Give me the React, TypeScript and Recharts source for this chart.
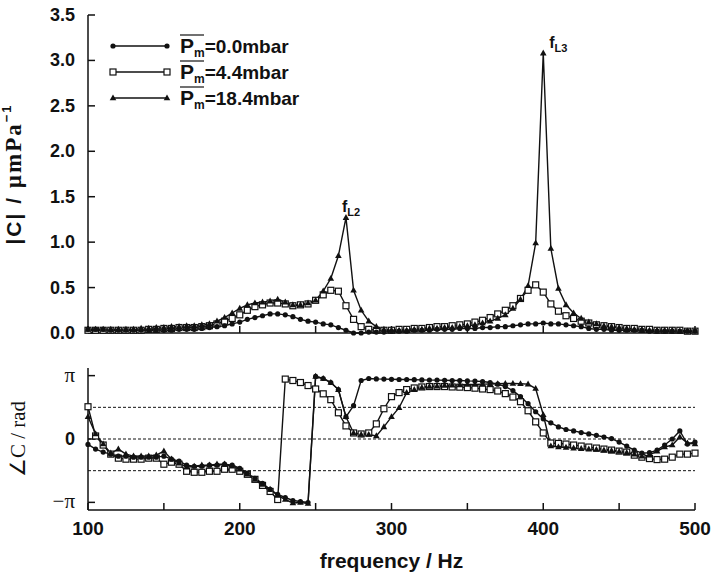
import {
  LineChart,
  Line,
  XAxis,
  YAxis,
  ReferenceLine,
  ReferenceDot,
  Legend,
} from "recharts";

// frequency grid (Hz)
const FREQ = [
  100, 105, 110, 115, 120, 125, 130, 135, 140, 145,
  150, 155, 160, 165, 170, 175, 180, 185, 190, 195,
  200, 205, 210, 215, 220, 225, 230, 235, 240, 245,
  250, 255, 260, 265, 270, 275, 280, 285, 290, 295,
  300, 305, 310, 315, 320, 325, 330, 335, 340, 345,
  350, 355, 360, 365, 370, 375, 380, 385, 390, 395,
  400, 405, 410, 415, 420, 425, 430, 435, 440, 445,
  450, 455, 460, 465, 470, 475, 480, 485, 490, 495,
  500,
];

// |C| in µm/Pa
const MAG_00 = [
  0.04, 0.04, 0.04, 0.03, 0.03, 0.03, 0.03, 0.03, 0.03, 0.03,
  0.03, 0.03, 0.04, 0.04, 0.04, 0.05, 0.06, 0.07, 0.08, 0.1,
  0.12, 0.15, 0.17, 0.19, 0.21, 0.21, 0.2, 0.18, 0.15, 0.13,
  0.12, 0.1, 0.09, 0.06, 0.03, 0.0, 0.0, 0.01, 0.01, 0.01,
  0.02, 0.02, 0.02, 0.03, 0.03, 0.03, 0.04, 0.04, 0.04, 0.05,
  0.05, 0.05, 0.06, 0.06, 0.07, 0.07, 0.08, 0.09, 0.1, 0.1,
  0.11, 0.1, 0.1, 0.09, 0.08, 0.07, 0.05, 0.04, 0.04, 0.03,
  0.03, 0.03, 0.03, 0.03, 0.02, 0.02, 0.02, 0.02, 0.02, 0.02,
  0.02,
];
const MAG_44 = [
  0.03, 0.03, 0.03, 0.03, 0.03, 0.03, 0.03, 0.03, 0.04, 0.04,
  0.05, 0.05, 0.06, 0.06, 0.06, 0.07, 0.08, 0.1, 0.13, 0.16,
  0.2, 0.25, 0.29, 0.31, 0.33, 0.33, 0.32, 0.3, 0.31, 0.32,
  0.36, 0.42, 0.47, 0.46, 0.3, 0.15, 0.07, 0.04, 0.03, 0.03,
  0.03, 0.04, 0.04, 0.05, 0.05, 0.06, 0.07, 0.07, 0.08, 0.09,
  0.1, 0.12, 0.14, 0.17, 0.21, 0.25, 0.3, 0.38, 0.47, 0.53,
  0.45, 0.32, 0.24, 0.19, 0.16, 0.13, 0.11, 0.09, 0.08, 0.07,
  0.06, 0.05, 0.05, 0.04, 0.04, 0.03, 0.03, 0.03, 0.03, 0.02,
  0.02,
];
const MAG_184 = [
  0.04, 0.04, 0.04, 0.04, 0.04, 0.04, 0.04, 0.05, 0.05, 0.06,
  0.06, 0.07, 0.07, 0.08, 0.08, 0.09, 0.1, 0.13, 0.17, 0.22,
  0.27, 0.31, 0.33, 0.34, 0.35, 0.37, 0.34, 0.31, 0.31, 0.33,
  0.36, 0.46, 0.6, 0.85, 1.27, 0.47, 0.25, 0.13, 0.07, 0.04,
  0.03, 0.03, 0.03, 0.04, 0.04, 0.05, 0.05, 0.06, 0.06, 0.07,
  0.08, 0.09, 0.11, 0.13, 0.16, 0.2, 0.27, 0.37, 0.52, 0.99,
  3.08, 0.93, 0.49, 0.31, 0.22, 0.16, 0.12, 0.1, 0.08, 0.07,
  0.06, 0.05, 0.04, 0.04, 0.03, 0.03, 0.03, 0.03, 0.02, 0.02,
  0.02,
];

// phase in rad
const PHASE_00 = [
  -0.27, -0.5, -0.65, -0.75, -0.85, -0.85, -0.9, -0.9, -0.9, -0.9,
  -0.85, -1.0, -1.1, -1.3, -1.35, -1.35, -1.3, -1.3, -1.25, -1.3,
  -1.45, -1.7, -1.95, -2.2, -2.5, -2.75, -2.9, -3.05, -3.1, -3.15,
  3.1, 3.0, 2.8, 2.45, 1.1, 1.65, 2.9, 3.0, 2.98, 2.97,
  2.96, 2.95, 2.95, 2.94, 2.93, 2.92, 2.92, 2.91, 2.9, 2.9,
  2.88, 2.87, 2.85, 2.8, 2.72, 2.6, 2.4, 2.1, 1.75, 1.35,
  1.0, 0.8, 0.6, 0.47, 0.4, 0.32, 0.25, 0.18, 0.1, 0.02,
  -0.15, -0.35, -0.55, -0.7, -0.68, -0.55, -0.3, 0.0, 0.4, -0.25,
  -0.15,
];
const PHASE_44 = [
  1.6, 0.15, -0.3, -0.75, -0.95, -1.0, -1.0, -1.0, -0.95, -0.95,
  -1.25, -1.15, -1.25, -1.6, -1.65, -1.65, -1.6, -1.6, -1.5, -1.5,
  -1.6, -1.75, -2.0, -2.3, -2.6, -3.0, 2.97, 2.9, 2.8, 2.65,
  2.48, 2.24, 1.95, 1.3, 0.65, 0.3, 0.25, 0.3, 0.75, 1.5,
  2.1, 2.3, 2.45, 2.53, 2.58, 2.6, 2.6, 2.6, 2.58, 2.57,
  2.55, 2.52, 2.48, 2.45, 2.38, 2.25, 2.08, 1.85, 1.4, 0.85,
  0.3, -0.2, -0.22, -0.25, -0.3, -0.35, -0.4, -0.45, -0.5, -0.55,
  -0.6, -0.65, -0.8, -0.9, -0.97, -1.02, -1.0, -0.9, -0.75, -0.75,
  -0.7,
];
const PHASE_184 = [
  1.1, 0.25, -0.25, -0.7, -0.5, -0.75, -0.85, -0.85, -0.85, -0.8,
  -0.6, -1.0, -1.2, -1.4, -1.35, -1.3, -1.3, -1.25, -1.25, -1.35,
  -1.5, -1.75, -2.0, -2.25, -2.5, -2.8, -3.0, -3.17, -3.15, -3.2,
  3.1, 3.0, 2.8, 2.45, 1.1, 0.3, 0.22, 0.22, 0.15, 0.6,
  1.1, 1.55, 2.3, 2.45, 2.55, 2.6, 2.62, 2.65, 2.67, 2.68,
  2.7, 2.7, 2.72, 2.73, 2.74, 2.75, 2.75, 2.74, 2.72, 2.5,
  1.2, -0.35, -0.4, -0.42, -0.45, -0.48, -0.5, -0.52, -0.55, -0.58,
  -0.62, -0.68, -0.75, -0.85, -0.8, -0.6, -0.4, -0.3, 0.1, -0.2,
  -0.25,
];

const X_TICKS = [100, 150, 200, 250, 300, 350, 400, 450, 500];
const MAG_TICKS = [0, 0.5, 1, 1.5, 2, 2.5, 3, 3.5];
const PHASE_TICKS = [-Math.PI, 0, Math.PI];
const PHASE_GRID = [-Math.PI / 2, 0, Math.PI / 2];
const LEGEND_LABELS = ["=0.0mbar", "=4.4mbar", "=18.4mbar"];
const PEAKS = [
  { f: 270, v: 1.27, name: "L2" },
  { f: 400, v: 3.08, name: "L3" },
];

const INK = "#111";
const SANS = "'Liberation Sans', Arial, Helvetica, sans-serif";
const SERIF = "'Liberation Serif', 'Times New Roman', serif";

const magData = FREQ.map((f, i) => ({ f, p0: MAG_00[i], p4: MAG_44[i], p18: MAG_184[i] }));
const phaseData = FREQ.map((f, i) => ({ f, p0: PHASE_00[i], p4: PHASE_44[i], p18: PHASE_184[i] }));

type Shape = "circle" | "square" | "triangle";
const SERIES: { key: "p0" | "p4" | "p18"; shape: Shape }[] = [
  { key: "p4", shape: "square" },
  { key: "p18", shape: "triangle" },
  { key: "p0", shape: "circle" },
];
const LEGEND_ORDER: Shape[] = ["circle", "square", "triangle"];

function marker(shape: Shape, cx: number, cy: number, key?: string) {
  if (shape === "circle") return <circle key={key} cx={cx} cy={cy} r={2.6} fill={INK} />;
  if (shape === "square")
    return (
      <rect key={key} x={cx - 3} y={cy - 3} width={6} height={6} fill="#fff" stroke={INK} strokeWidth={1.2} />
    );
  return (
    <path key={key} d={`M${cx},${cy - 3.6}L${cx + 3.3},${cy + 2.3}L${cx - 3.3},${cy + 2.3}Z`} fill={INK} />
  );
}

const dotFor = (shape: Shape) => (p: any) => {
  if (p.cx == null || p.cy == null) return <g key={p.key} />;
  return marker(shape, p.cx, p.cy, p.key);
};

const emptyTick = () => <g />;

function MagTick(props: any) {
  const { x, y, payload } = props;
  return (
    <text x={x} y={y} dy={6} textAnchor="end" fontFamily={SANS} fontWeight="bold" fontSize={18} fill={INK}>
      {Number(payload.value).toFixed(1)}
    </text>
  );
}

function PhaseTick(props: any) {
  const { x, y, payload } = props;
  const v = payload.value;
  const label = v > 0.1 ? "π" : v < -0.1 ? "−π" : "0";
  const isZero = label === "0";
  return (
    <text
      x={x}
      y={y}
      dy={6}
      textAnchor="end"
      fontFamily={isZero ? SANS : SERIF}
      fontWeight={isZero ? "bold" : "normal"}
      fontSize={isZero ? 18 : 21}
      fill={INK}
    >
      {label}
    </text>
  );
}

function FreqTick(props: any) {
  const { x, y, payload } = props;
  if (payload.value % 100 !== 0) return <g />;
  return (
    <text x={x} y={y} dy={14} textAnchor="middle" fontFamily={SANS} fontWeight="bold" fontSize={19} fill={INK}>
      {payload.value}
    </text>
  );
}

const renderLegend = () => (
  <div>
    {LEGEND_ORDER.map((shape, i) => (
      <svg key={shape} width={240} height={26} style={{ display: "block", overflow: "visible" }}>
        <line x1={8} y1={13} x2={62} y2={13} stroke={INK} strokeWidth={1.4} />
        {marker(shape, 8, 13)}
        {marker(shape, 62, 13)}
        <line x1={75} y1={2} x2={99} y2={2} stroke={INK} strokeWidth={1.2} />
        <text x={75} y={20} fontFamily={SANS} fontWeight="bold" fontSize={21} fill={INK}>
          P
          <tspan fontSize={12} dy={4}>
            m
          </tspan>
          <tspan fontSize={19} dy={-4}>
            {LEGEND_LABELS[i]}
          </tspan>
        </text>
      </svg>
    ))}
  </div>
);

const peakLabel = (name: string, dx: number, dy: number) => (p: any) =>
  (
    <text x={p.cx + dx} y={p.cy + dy} fontFamily={SANS} fontWeight="bold" fontSize={16} fill={INK}>
      f
      <tspan fontSize={11} dy={4}>
        {name}
      </tspan>
    </text>
  );

const magLabel = ({ viewBox }: any) => {
  const cx = viewBox.x - 17;
  const cy = viewBox.y + viewBox.height / 2;
  return (
    <text
      transform={`translate(${cx},${cy}) rotate(-90)`}
      textAnchor="middle"
      fontFamily={SANS}
      fontWeight="bold"
      fontSize={21}
      letterSpacing={2}
      fill={INK}
    >
      |C| / <tspan fontFamily={SERIF} fontSize={23}>µmPa</tspan>
      <tspan fontSize={13} dy={-10}>
        −1
      </tspan>
    </text>
  );
};

const phaseLabel = ({ viewBox }: any) => {
  const cx = viewBox.x - 13;
  const cy = viewBox.y + viewBox.height / 2;
  return (
    <text
      transform={`translate(${cx},${cy}) rotate(-90)`}
      textAnchor="middle"
      fontFamily={SERIF}
      fontSize={21}
      fill={INK}
    >
      ∠C / rad
    </text>
  );
};

export default function App() {
  return (
    <div
      style={{
        position: "absolute",
        left: 0,
        top: 0,
        width: 718,
        height: 577,
        background: "#fff",
      }}
    >
      <div style={{ position: "absolute", left: 0, top: 0 }}>
        <LineChart width={718} height={345} data={magData} margin={{ top: 15, right: 23, bottom: 0, left: 38 }}>
          <XAxis
            dataKey="f"
            type="number"
            domain={[100, 500]}
            ticks={X_TICKS}
            height={12}
            tick={emptyTick}
            tickSize={-7}
            stroke={INK}
            strokeWidth={1.5}
          />
          <XAxis
            xAxisId="top"
            orientation="top"
            dataKey="f"
            type="number"
            domain={[100, 500]}
            ticks={X_TICKS}
            height={0}
            tick={emptyTick}
            tickSize={-7}
            stroke={INK}
            strokeWidth={1.5}
          />
          <YAxis
            type="number"
            domain={[0, 3.5]}
            ticks={MAG_TICKS}
            width={50}
            tick={<MagTick />}
            tickSize={-7}
            tickMargin={20}
            stroke={INK}
            strokeWidth={1.5}
            label={magLabel}
          />
          <YAxis
            yAxisId="right"
            orientation="right"
            type="number"
            domain={[0, 3.5]}
            ticks={MAG_TICKS}
            width={0}
            tick={emptyTick}
            tickSize={-7}
            stroke={INK}
            strokeWidth={1.5}
          />
          <Legend
            content={renderLegend}
            layout="vertical"
            align="center"
            verticalAlign="middle"
            wrapperStyle={{ left: 105, top: 33, width: 260, overflow: "visible" }}
          />
          {SERIES.map((s) => (
            <Line
              key={s.key}
              dataKey={s.key}
              type="linear"
              stroke={INK}
              strokeWidth={1.4}
              dot={dotFor(s.shape)}
              activeDot={false}
              isAnimationActive={false}
            />
          ))}
          <ReferenceDot x={PEAKS[0].f} y={PEAKS[0].v} r={0} shape={peakLabel(PEAKS[0].name, -4, -6)} />
          <ReferenceDot x={PEAKS[1].f} y={PEAKS[1].v} r={0} shape={peakLabel(PEAKS[1].name, 6, -5)} />
        </LineChart>
      </div>
      <div style={{ position: "absolute", left: 0, top: 345 }}>
        <LineChart width={718} height={232} data={phaseData} margin={{ top: 23, right: 23, bottom: 0, left: 38 }}>
          <XAxis
            dataKey="f"
            type="number"
            domain={[100, 500]}
            ticks={X_TICKS}
            height={67}
            tick={<FreqTick />}
            tickSize={-7}
            tickMargin={18}
            stroke={INK}
            strokeWidth={1.5}
            label={{
              value: "frequency / Hz",
              position: "insideBottom",
              offset: 9,
              style: { fontFamily: SANS, fontWeight: "bold", fontSize: 21, fill: INK },
            }}
          />
          <XAxis
            xAxisId="top"
            orientation="top"
            dataKey="f"
            type="number"
            domain={[100, 500]}
            ticks={X_TICKS}
            height={0}
            tick={emptyTick}
            tickSize={-7}
            stroke={INK}
            strokeWidth={1.5}
          />
          <YAxis
            type="number"
            domain={[-3.52, 3.52]}
            ticks={PHASE_TICKS}
            width={50}
            tick={<PhaseTick />}
            tickSize={-7}
            tickMargin={20}
            stroke={INK}
            strokeWidth={1.5}
            label={phaseLabel}
          />
          <YAxis
            yAxisId="right"
            orientation="right"
            type="number"
            domain={[-3.52, 3.52]}
            ticks={PHASE_TICKS}
            width={0}
            tick={emptyTick}
            tickSize={-7}
            stroke={INK}
            strokeWidth={1.5}
          />
          {PHASE_GRID.map((v) => (
            <ReferenceLine key={v} y={v} stroke={INK} strokeWidth={1} strokeDasharray="3 2" />
          ))}
          {SERIES.map((s) => (
            <Line
              key={s.key}
              dataKey={s.key}
              type="linear"
              stroke={INK}
              strokeWidth={1.4}
              dot={dotFor(s.shape)}
              activeDot={false}
              isAnimationActive={false}
            />
          ))}
        </LineChart>
      </div>
    </div>
  );
}
